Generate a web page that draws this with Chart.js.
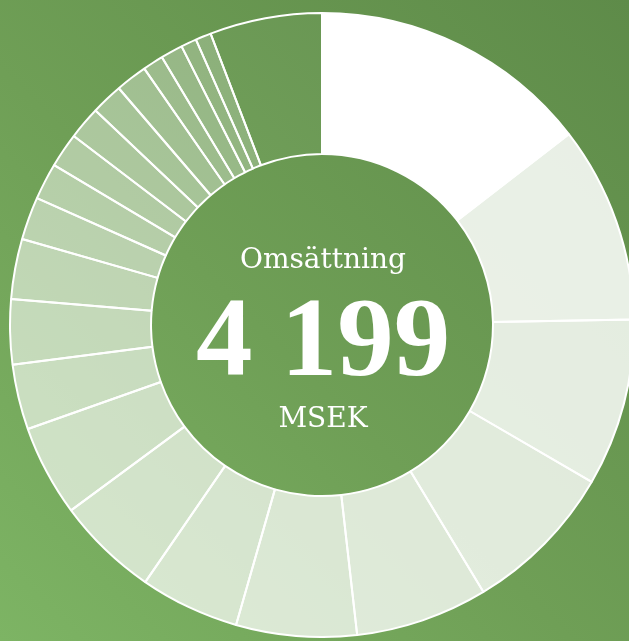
<!DOCTYPE html>
<html lang="sv">
<head>
<meta charset="utf-8">
<title>Omsättning</title>
<script src="https://cdn.jsdelivr.net/npm/chart.js@4"></script>
<style>
  html, body {
    margin: 0;
    padding: 0;
    width: 629px;
    height: 641px;
    overflow: hidden;
  }
  body {
    position: relative;
    background: linear-gradient(45deg, #7db464 0%, #6f9f56 45%, #5e8b49 100%);
  }
  #wrap {
    position: absolute;
    left: 9px;
    top: 12px;
    width: 626px;
    height: 626px;
  }
</style>
</head>
<body>
<div id="wrap"><canvas id="chartRevenue"></canvas></div>
<script>
// Omsättning per del (MSEK), read clockwise from 12 o'clock
const segments = [
  'Del 1', 'Del 2', 'Del 3', 'Del 4', 'Del 5', 'Del 6', 'Del 7', 'Del 8',
  'Del 9', 'Del 10', 'Del 11', 'Del 12', 'Del 13', 'Del 14', 'Del 15', 'Del 16',
  'Del 17', 'Del 18', 'Del 19', 'Del 20', 'Del 21', 'Del 22', 'Övrigt'
];
const revenue = [
  610, 428, 364, 334, 288, 262, 216, 222,
  198, 142, 141, 131, 93, 80, 75, 72,
  69, 69, 45, 48, 34, 34, 244
];
const centerTitle = 'Omsättning';
const centerValue = '4 199';
const centerUnit = 'MSEK';

// white fading out slice by slice, last one ("Övrigt") almost invisible
const fills = revenue.map((_, i) => {
  if (i === 0) return '#ffffff';
  if (i === revenue.length - 1) return 'rgba(255,255,255,0.03)';
  const a = 0.86 - (i - 1) * 0.031;
  return `rgba(255,255,255,${a.toFixed(3)})`;
});

// ── centre label ──
const centerText = {
  id: 'centerText',
  afterDraw(chart) {
    const arc = chart.getDatasetMeta(0).data[0];
    if (!arc) return;
    const { ctx } = chart;
    const x = arc.x + 1;
    const y = arc.y;
    ctx.save();
    ctx.fillStyle = '#ffffff';
    ctx.textAlign = 'center';
    ctx.textBaseline = 'alphabetic';
    ctx.font = '28px "DejaVu Serif"';
    ctx.fillText(centerTitle, x, y - 57);
    ctx.font = 'bold 113px "Liberation Serif"';
    ctx.fillText(centerValue, x, y + 50);
    ctx.font = '28px "DejaVu Serif"';
    ctx.fillText(centerUnit, x, y + 102);
    ctx.restore();
  }
};

new Chart(document.getElementById('chartRevenue'), {
  type: 'doughnut',
  data: {
    labels: segments,
    datasets: [{
      data: revenue,
      backgroundColor: fills,
      borderColor: '#ffffff',
      borderWidth: 2,
      hoverOffset: 0
    }]
  },
  options: {
    responsive: true,
    maintainAspectRatio: false,
    cutout: '54.8%',
    animation: false,
    layout: { padding: 0 },
    plugins: {
      legend: { display: false },
      tooltip: { enabled: false }
    }
  },
  plugins: [centerText]
});
</script>
</body>
</html>
